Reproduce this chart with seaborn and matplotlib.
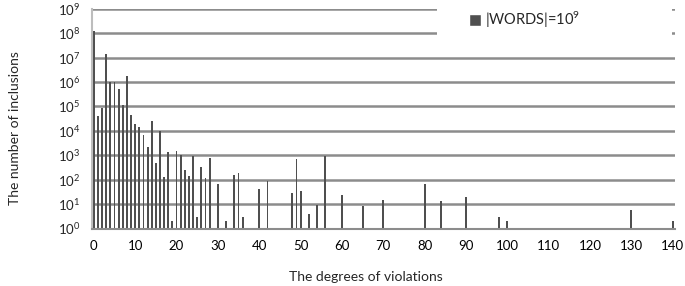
import numpy as np
import pandas as pd
import matplotlib.pyplot as plt
import seaborn as sns
from matplotlib.patches import Rectangle
from matplotlib.ticker import NullLocator

# degrees of violations that have at least one inclusion, and their counts
degrees = [0, 1, 2, 3, 4, 5, 6, 7, 8, 9, 10, 11, 12, 13, 14, 15, 16, 17, 18, 19,
           20, 21, 22, 23, 24, 25, 26, 27, 28, 30, 32, 34, 35, 36, 40, 42,
           48, 49, 50, 52, 54, 56, 60, 65, 70, 80, 84, 90, 98, 100, 130, 140]
counts = [1.25e8, 4.2e4, 8.5e4, 1.4e7, 1.0e6, 1.0e6, 5e5, 1.2e5, 1.7e6, 4.5e4,
          2.0e4, 1.4e4, 6.8e3, 2.1e3, 2.5e4, 470, 1.0e4, 130, 1.4e3, 2,
          1.5e3, 1.0e3, 250, 140, 940, 3, 340, 115, 750, 65, 2, 150, 180, 3, 43, 89,
          29, 730, 34, 4, 9, 910, 24, 8, 15, 69, 13, 20, 3, 2, 6, 2]
all_degrees = list(range(0, 141))
x_tick_labels = list(range(0, 141, 10))
series_name = r'|WORDS|=$\mathdefault{10^{9}}$'

bar_color = '#4f4f4f'
grid_color = '#8c8c8c'

sns.set_theme(style='white')
plt.rcParams['font.family'] = ['Lato', 'DejaVu Sans']

df = pd.DataFrame({'degree': degrees, 'count': counts, 'series': series_name})

fig = plt.figure(figsize=(6.85, 2.86), dpi=100)
ax = fig.add_axes([0.134, 0.201, 0.851, 0.768])

sns.barplot(data=df, x='degree', y='count', hue='series', order=all_degrees,
            palette={series_name: bar_color}, width=0.45, saturation=1, ax=ax)
for p in ax.patches:
    p.set_zorder(2)
    p.set_linewidth(0)

ax.set_yscale('log')
ax.set_ylim(1, 1e9)
ax.set_xlim(-0.5, 140.5)
ax.yaxis.set_minor_locator(NullLocator())
ax.set_yticks([10 ** k for k in range(0, 10)])

ax.set_xticks(x_tick_labels)
ax.set_xticklabels([str(v) for v in x_tick_labels])
ax.set_xticks(np.arange(-0.5, 141, 1), minor=True)
ax.tick_params(axis='x', which='major', length=0, pad=8, labelsize=9.5, colors='black')
ax.tick_params(axis='x', which='minor', length=4, width=1, color=grid_color, direction='out')
ax.tick_params(axis='y', which='major', length=5, width=1.8, color=grid_color,
               labelsize=9.5, pad=3, direction='out')

ax.yaxis.grid(True, color=grid_color, linewidth=1.8, zorder=0)
ax.xaxis.grid(False)
ax.set_axisbelow(True)

for s in ['top', 'right']:
    ax.spines[s].set_visible(False)
ax.spines['left'].set_color('#bdbdbd')
ax.spines['left'].set_linewidth(1.5)
ax.spines['bottom'].set_color(grid_color)
ax.spines['bottom'].set_linewidth(1.5)

ax.set_xlabel('The degrees of violations', fontsize=10)
ax.set_ylabel('The number of inclusions', fontsize=10)
ax.xaxis.set_label_coords(0.47, -0.195)
ax.yaxis.set_label_coords(-0.122, 0.458)

# legend area blanks out the gridlines behind it
ax.add_patch(Rectangle((0.592, 0.83), 0.403, 0.25, transform=ax.transAxes,
                       facecolor='white', edgecolor='none', zorder=1.5, clip_on=False))
sns.move_legend(ax, 'center left', bbox_to_anchor=(0.625, 0.95), frameon=False,
                title=None, fontsize=10.5, handlelength=0.8, handleheight=0.8,
                handletextpad=0.3)
ax.get_legend().set_zorder(3)

fig.savefig('out.png', dpi=100)
